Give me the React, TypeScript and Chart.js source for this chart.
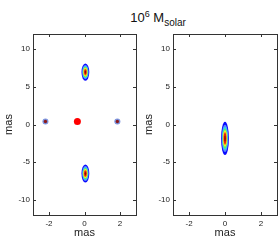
import React, { useEffect, useRef } from "react";
import { Chart, registerables } from "chart.js";

Chart.register(...registerables);

// ---- data ----
const xTicks = [-2, 0, 2];
const yTicks = [-10, -5, 0, 5, 10];
const xRange = [-2.9, 2.9];
const yRange = [-12, 12];

// left panel: lensed images (elongated) and faint outer images
const leftImageX = [0.05, 0.05];
const leftImageY = [6.95, -6.5];
const leftImageRx = [0.22, 0.22];
const leftImageRy = [1.15, 1.2];

const leftSpotX = [-2.2, 1.85];
const leftSpotY = [0.4, 0.4];
const leftSpotRx = [0.17, 0.17];
const leftSpotRy = [0.4, 0.4];

const lensX = [-0.4];
const lensY = [0.4];

// right panel: source
const rightImageX = [0];
const rightImageY = [-1.85];
const rightImageRx = [0.22];
const rightImageRy = [2.2];

// contour levels (fraction of outer radius) and jet-like colours
const imageLevels = [1.0, 0.82, 0.7, 0.6, 0.5, 0.42, 0.33, 0.18];
const imageColors = ["#0a0aff", "#5a8cff", "#2fd8e8", "#5ef25e", "#f8f830", "#ff9c10", "#e82010", "#8c0808"];
const spotLevels = [1.0, 0.55];
const spotColors = ["#7d95de", "#8c1a1a"];

const FONT = "'Liberation Sans', Arial, Helvetica, sans-serif";

const ellipsePlugin = {
  id: "ellipses",
  afterDatasetsDraw(chart: any) {
    const { ctx, chartArea } = chart;
    const xs = chart.scales.x;
    const ys = chart.scales.y;
    ctx.save();
    ctx.beginPath();
    ctx.rect(chartArea.left, chartArea.top, chartArea.right - chartArea.left, chartArea.bottom - chartArea.top);
    ctx.clip();
    chart.data.datasets.forEach((ds: any, i: number) => {
      if (!ds.rx) return;
      const meta = chart.getDatasetMeta(i);
      meta.data.forEach((el: any, j: number) => {
        const d = ds.data[j];
        const rxp = Math.abs(xs.getPixelForValue(d.x + ds.rx[j]) - xs.getPixelForValue(d.x));
        const ryp = Math.abs(ys.getPixelForValue(d.y + ds.ry[j]) - ys.getPixelForValue(d.y));
        ds.levels.forEach((f: number, k: number) => {
          ctx.beginPath();
          ctx.ellipse(el.x, el.y, Math.max(rxp * f, 0.6), Math.max(ryp * f, 0.6), 0, 0, Math.PI * 2);
          ctx.fillStyle = ds.levelColors[k];
          ctx.fill();
        });
      });
    });
    ctx.restore();
  },
};

const boxPlugin = {
  id: "box",
  afterDraw(chart: any) {
    const { ctx, chartArea } = chart;
    const { left, right, top, bottom } = chartArea;
    const xs = chart.scales.x;
    const ys = chart.scales.y;
    ctx.save();
    ctx.strokeStyle = "#333";
    ctx.lineWidth = 1;
    ctx.strokeRect(Math.round(left) + 0.5, Math.round(top) + 0.5, Math.round(right - left), Math.round(bottom - top));
    const L = 3;
    ctx.beginPath();
    xs.ticks.forEach((t: any) => {
      const px = Math.round(xs.getPixelForValue(t.value)) + 0.5;
      ctx.moveTo(px, bottom);
      ctx.lineTo(px, bottom - L);
      ctx.moveTo(px, top);
      ctx.lineTo(px, top + L);
    });
    ys.ticks.forEach((t: any) => {
      const py = Math.round(ys.getPixelForValue(t.value)) + 0.5;
      ctx.moveTo(left, py);
      ctx.lineTo(left + L, py);
      ctx.moveTo(right, py);
      ctx.lineTo(right - L, py);
    });
    ctx.stroke();
    ctx.restore();
  },
};

function makeOptions(padRight: number) {
  return {
    animation: false,
    responsive: false,
    events: [],
    layout: { padding: { top: 34, right: padRight, left: 0, bottom: 0 } },
    plugins: { legend: { display: false }, tooltip: { enabled: false } },
    scales: {
      x: {
        type: "linear",
        min: xRange[0],
        max: xRange[1],
        grid: { display: false, drawTicks: false },
        border: { display: false },
        afterBuildTicks: (s: any) => {
          s.ticks = xTicks.map((v) => ({ value: v }));
        },
        afterFit: (s: any) => {
          s.height = 25;
        },
        ticks: { font: { family: FONT, size: 8 }, color: "#222", padding: 4, maxRotation: 0 },
        title: { display: true, text: "mas", font: { family: FONT, size: 11 }, color: "#222", padding: { top: 0, bottom: 0 } },
      },
      y: {
        type: "linear",
        min: yRange[0],
        max: yRange[1],
        grid: { display: false, drawTicks: false },
        border: { display: false },
        afterBuildTicks: (s: any) => {
          s.ticks = yTicks.map((v) => ({ value: v }));
        },
        afterFit: (s: any) => {
          s.width = 33;
        },
        ticks: { font: { family: FONT, size: 8 }, color: "#222", padding: 3 },
        title: { display: true, text: "mas", font: { family: FONT, size: 11 }, color: "#222", padding: { top: 2, bottom: 0 } },
      },
    },
  };
}

function pts(xs: number[], ys: number[]) {
  return xs.map((x, i) => ({ x, y: ys[i] }));
}

function Panel({ datasets, padRight, left }: { datasets: any[]; padRight: number; left: number }) {
  const ref = useRef<HTMLCanvasElement>(null);
  useEffect(() => {
    const chart = new Chart(ref.current as HTMLCanvasElement, {
      type: "scatter",
      data: { datasets },
      options: makeOptions(padRight) as any,
      plugins: [ellipsePlugin, boxPlugin],
    });
    return () => chart.destroy();
  }, []);
  return (
    <div style={{ position: "absolute", left, top: 0, width: 140, height: 240 }}>
      <canvas ref={ref} width={140} height={240} style={{ width: 140, height: 240, display: "block" }} />
    </div>
  );
}

export default function App() {
  const leftSets = [
    {
      data: pts(leftImageX, leftImageY),
      rx: leftImageRx,
      ry: leftImageRy,
      levels: imageLevels,
      levelColors: imageColors,
      pointRadius: 0,
    },
    {
      data: pts(leftSpotX, leftSpotY),
      rx: leftSpotRx,
      ry: leftSpotRy,
      levels: spotLevels,
      levelColors: spotColors,
      pointRadius: 0,
    },
    {
      data: pts(lensX, lensY),
      pointRadius: 3.5,
      pointBackgroundColor: "#ff0000",
      pointBorderColor: "#ff0000",
      pointBorderWidth: 0,
    },
  ];
  const rightSets = [
    {
      data: pts(rightImageX, rightImageY),
      rx: rightImageRx,
      ry: rightImageRy,
      levels: imageLevels,
      levelColors: imageColors,
      pointRadius: 0,
    },
  ];
  return (
    <div style={{ position: "fixed", left: 0, top: 0, width: 280, height: 240, background: "#fff", overflow: "hidden" }}>
      <div
        style={{
          position: "absolute",
          left: 0,
          top: 6,
          width: 316,
          textAlign: "center",
          fontFamily: FONT,
          fontSize: 13,
          color: "#111",
          lineHeight: "16px",
          whiteSpace: "nowrap",
        }}
      >
        10<sup style={{ fontSize: 9 }}>6</sup> M<sub style={{ fontSize: 10 }}>solar</sub>
      </div>
      <Panel datasets={leftSets} padRight={4} left={0} />
      <Panel datasets={rightSets} padRight={3} left={140} />
    </div>
  );
}
